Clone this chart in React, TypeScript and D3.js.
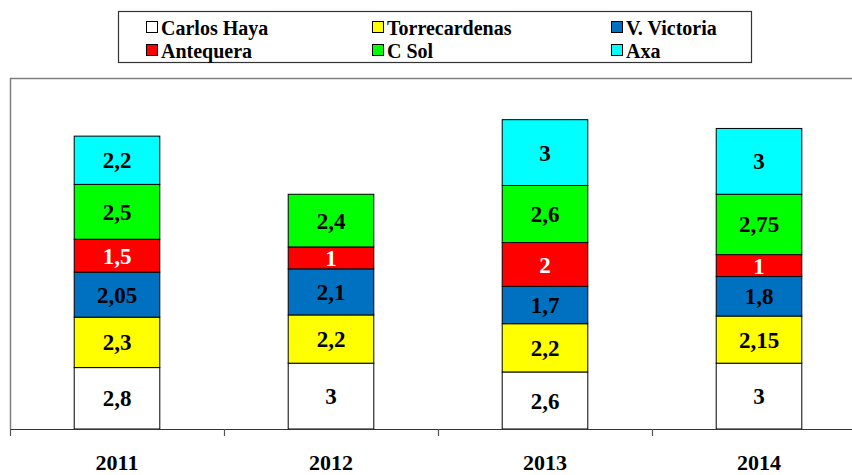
import * as d3 from "d3";

// chart data
const years = ["2011", "2012", "2013", "2014"];
const hospitals = ["Carlos Haya", "Torrecardenas", "V. Victoria", "Antequera", "C Sol", "Axa"];
const colors = ["#ffffff", "#ffff00", "#0070c0", "#ff0000", "#00ff00", "#00ffff"];
const textColors = ["#000", "#000", "#000", "#fff", "#000", "#000"];

const carlosHaya = [2.8, 3, 2.6, 3];
const torrecardenas = [2.3, 2.2, 2.2, 2.15];
const vVictoria = [2.05, 2.1, 1.7, 1.8];
const antequera = [1.5, 1, 2, 1];
const cSol = [2.5, 2.4, 2.6, 2.75];
const axa = [2.2, 0, 3, 3]; // no Axa segment in 2012

const seriesValues = [carlosHaya, torrecardenas, vVictoria, antequera, cSol, axa];

const WIDTH = 852;
const HEIGHT = 475;
const FONT = "Liberation Serif, serif";

const fmt = (v: number) => String(v).replace(".", ",");

export default function App() {
  const x = d3.scaleBand().domain(years).range([10, 866]).paddingInner(0.6).paddingOuter(0.3);
  const band = d3.scaleBand().domain(years).range([10, 866]);
  const y = d3.scaleLinear().domain([0, 16]).range([429, 78]);

  const rows = years.map((yr, i) => {
    const r: any = { year: yr };
    hospitals.forEach((h, k) => (r[h] = seriesValues[k][i]));
    return r;
  });
  const stacked = d3.stack().keys(hospitals)(rows);

  const colX = [146, 372, 611];
  const rowY = [28, 51];

  return (
    <svg
      width={WIDTH}
      height={HEIGHT}
      fontFamily={FONT}
      style={{ position: "absolute", left: 0, top: 0, background: "#fff" }}
    >
      {/* plot frame */}
      <path d="M10.5,429V78.5H852" fill="none" stroke="#808080" strokeWidth={1.5} />

      {stacked.map((layer, k) => (
        <g key={hospitals[k]}>
          {layer.map((d: any, i: number) => {
            const v = seriesValues[k][i];
            if (!v) return null;
            const x0 = x(d.data.year)!;
            return (
              <g key={i}>
                <rect
                  x={x0}
                  y={y(d[1])}
                  width={x.bandwidth()}
                  height={y(d[0]) - y(d[1])}
                  fill={colors[k]}
                  stroke="#000"
                  strokeWidth={1}
                />
                <text
                  x={x0 + x.bandwidth() / 2}
                  y={(y(d[0]) + y(d[1])) / 2}
                  dy="0.35em"
                  textAnchor="middle"
                  fontWeight="bold"
                  fontSize={23}
                  fontFamily={FONT}
                  fill={textColors[k]}
                >
                  {fmt(v)}
                </text>
              </g>
            );
          })}
        </g>
      ))}

      {/* x axis */}
      <line x1={10} x2={852} y1={429.5} y2={429.5} stroke="#333" strokeWidth={1.2} />
      {years.map((yr) => {
        const bx = band(yr)!;
        return (
          <g key={yr}>
            <line x1={bx + 0.5} x2={bx + 0.5} y1={429} y2={436} stroke="#555" strokeWidth={1.2} />
            <text
              x={bx + band.bandwidth() / 2}
              y={470}
              textAnchor="middle"
              fontWeight="bold"
              fontSize={22}
              fontFamily={FONT}
            >
              {yr}
            </text>
          </g>
        );
      })}

      {/* legend */}
      <rect x={118.5} y={11.5} width={633} height={51} fill="#fff" stroke="#333" strokeWidth={1.2} />
      {hospitals.map((h, k) => {
        const cx = colX[k % 3];
        const cy = rowY[Math.floor(k / 3)];
        return (
          <g key={h}>
            <rect x={cx + 0.5} y={cy - 6.5} width={11} height={11} fill={colors[k]} stroke="#000" strokeWidth={1} />
            <text
              x={cx + 15}
              y={cy}
              dy="0.35em"
              fontWeight="bold"
              fontSize={20}
              fontFamily={FONT}
            >
              {h}
            </text>
          </g>
        );
      })}
    </svg>
  );
}
